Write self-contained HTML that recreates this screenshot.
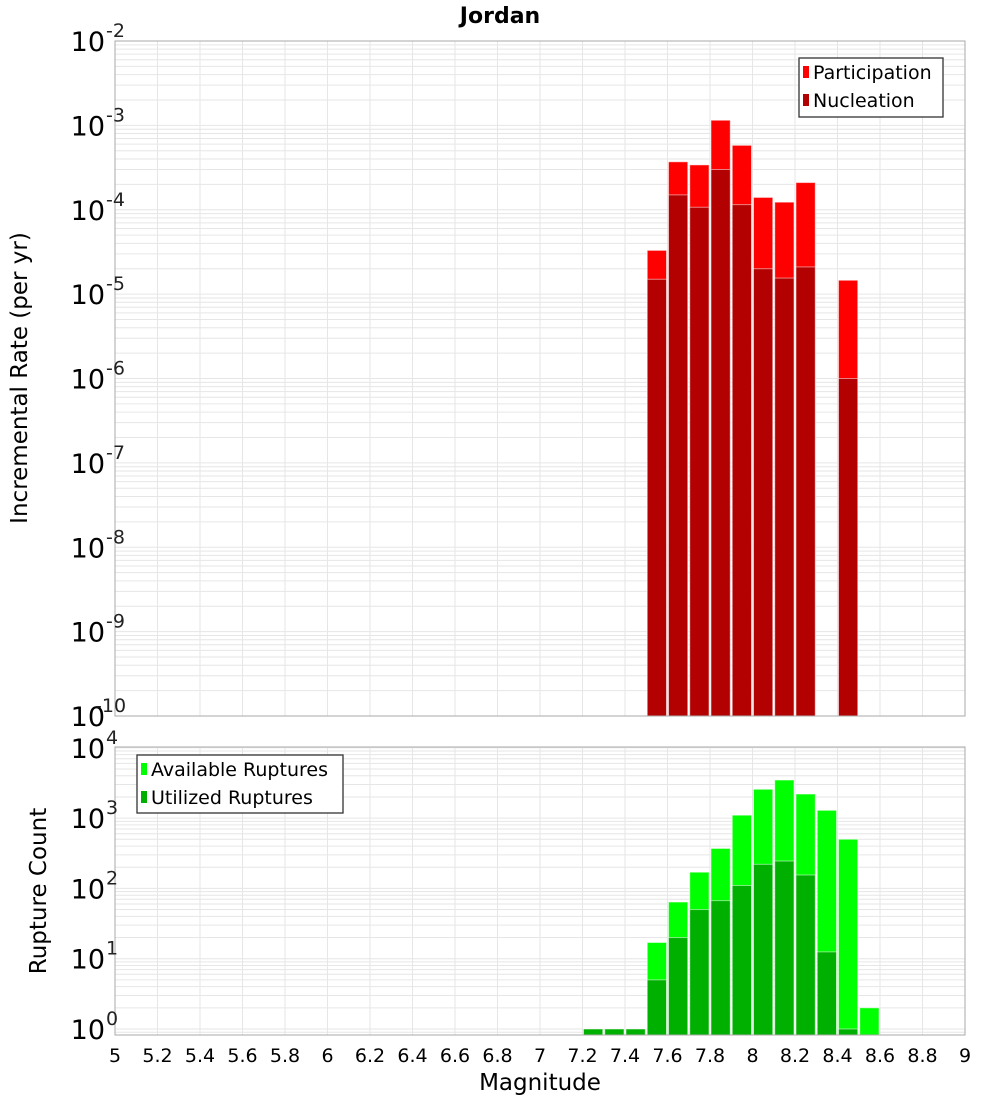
<!DOCTYPE html>
<html><head><meta charset="utf-8"><style>
body{margin:0;background:#fff;font-family:"DejaVu Sans","Liberation Sans",sans-serif}
svg text{font-family:"DejaVu Sans","Liberation Sans",sans-serif}
</style></head><body>
<svg id="c" width="1000" height="1100" xmlns="http://www.w3.org/2000/svg"></svg>
<script>
const mags=[7.25,7.35,7.45,7.55,7.65,7.75,7.85,7.95,8.05,8.15,8.25,8.35,8.45,8.55];
const participation=[0,0,0,3.3e-5,3.7e-4,3.4e-4,1.15e-3,5.8e-4,1.4e-4,1.23e-4,2.1e-4,0,1.46e-5,0];
const nucleation=[0,0,0,1.5e-5,1.5e-4,1.07e-4,3.0e-4,1.15e-4,2.0e-5,1.55e-5,2.1e-5,0,1.0e-6,0];
const available=[1,1,1,17,64,170,370,1100,2570,3480,2200,1290,500,2];
const utilized=[1,1,1,5,20,50,67,110,220,245,155,12.5,1,0];
const xTicks=[5,5.2,5.4,5.6,5.8,6,6.2,6.4,6.6,6.8,7,7.2,7.4,7.6,7.8,8,8.2,8.4,8.6,8.8,9];
const topExps=[-10,-9,-8,-7,-6,-5,-4,-3,-2];
const botExps=[0,1,2,3,4];

const svg=document.getElementById('c');const NS='http://www.w3.org/2000/svg';
function el(t,a,p){const e=document.createElementNS(NS,t);for(const k in a)e.setAttribute(k,a[k]);(p||svg).appendChild(e);return e;}
const X0=115,X1=965;
const xs=m=>X0+(m-5)/4*(X1-X0);
const topY=v=>41+(-2-Math.log10(v))*84.375;
const botY=v=>1029-Math.log10(v)*70.3;

function panel(name,yT,yB,yf,loE,hiE){
  const g=el('g',{});
  
  
  el('rect',{x:X0,y:yT,width:X1-X0,height:yB-yT,fill:'#fff'},g);
  for(let e=loE-1;e<=hiE;e++)for(let k=1;k<10;k++){const y=yf(k*Math.pow(10,e));if(y<yT||y>yB)continue;
    el('line',{x1:X0,x2:X1,y1:y,y2:y,stroke:'#e6e6e6','stroke-width':1},g);}
  xTicks.forEach(t=>{const x=xs(t);el('line',{x1:x,x2:x,y1:yT,y2:yB,stroke:'#e6e6e6','stroke-width':1},g);});
  return g;
}
function frame(yT,yB){el('rect',{x:X0,y:yT,width:X1-X0,height:yB-yT,fill:'none',stroke:'#aaa','stroke-width':1});}
function bars(vals,yf,yB,color,name){
  vals.forEach((v,i)=>{if(!v)return;const x=xs(mags[i]-0.05),w=xs(mags[i]+0.05)-x;const y=yf(v);
    const r=el('rect',{x:x+1,y:y,width:w-2,height:yB-y,fill:color,stroke:'#fff','stroke-opacity':0.5,'stroke-width':1});
    
    });
}
function ylab(e,y){
  const t=el('text',{x:105,y:y+10,'text-anchor':'end','font-size':27,fill:'#000'});
  
  t.textContent='10';
  const s=el('text',{x:106,y:y-4,'font-size':19,fill:'#222'});
  
  s.textContent=String(e);
  if(String(e).length>2){s.setAttribute('x',95);}
}

const ti=el('text',{x:500,y:23,'text-anchor':'middle','font-size':22,'font-weight':'bold'});ti.textContent='Jordan';


panel('top-plot-area',41,716,topY,-10,-2);
bars(participation,topY,716,'#ff0000','participation');
bars(nucleation,topY,716,'#b30000','nucleation');
frame(41,716);
topExps.forEach(e=>ylab(e,topY(Math.pow(10,e))));
panel('bottom-plot-area',747,1035,botY,0,4);
bars(available,botY,1035,'#00ff00','available');
bars(utilized,botY,1035,'#00b000','utilized');
frame(747,1035);
botExps.forEach(e=>ylab(e,botY(Math.pow(10,e))));

xTicks.forEach(t=>{const tx=el('text',{x:xs(t),y:1062,'text-anchor':'middle','font-size':19});tx.textContent=String(t);
  });
const xl=el('text',{x:540,y:1090,'text-anchor':'middle','font-size':23});xl.textContent='Magnitude';

const y1=el('text',{x:0,y:0,'text-anchor':'middle','font-size':23,transform:'translate(27,378) rotate(-90)'});y1.textContent='Incremental Rate (per yr)';

const y2=el('text',{x:0,y:0,'text-anchor':'middle','font-size':23,transform:'translate(46,891) rotate(-90)'});y2.textContent='Rupture Count';


function legend(name,x,y,w,h,items){
  const g=el('g',{});
  el('rect',{x:x,y:y,width:w,height:h,fill:'#fff',stroke:'#333','stroke-width':1.3},g);
  items.forEach((it,i)=>{const cy=y+14+i*28;
    el('rect',{x:x+4,y:cy-6,width:6,height:12,fill:it[1]},g);
    const t=el('text',{x:x+14,y:cy+7,'font-size':19},g);t.textContent=it[0];
    });
}
legend('top-legend',799,58,144,59,[['Participation','#ff0000'],['Nucleation','#b30000']]);
legend('bottom-legend',137,755,206,58,[['Available Ruptures','#00ff00'],['Utilized Ruptures','#00b000']]);
</script>
</body></html>
